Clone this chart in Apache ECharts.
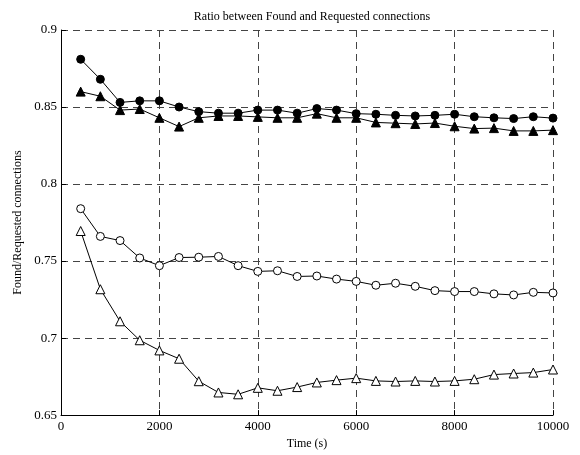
<!DOCTYPE html>
<html><head><meta charset="utf-8">
<script src="https://cdn.jsdelivr.net/npm/echarts@6/dist/echarts.min.js"></script>
<style>html,body{margin:0;padding:0;background:#fff}#c{width:580px;height:455px}</style>
</head><body><div id="c"></div>
<script>
const times = [400,800,1200,1600,2000,2400,2800,3200,3600,4000,4400,4800,5200,5600,6000,6400,6800,7200,7600,8000,8400,8800,9200,9600,10000];
const filledCircle = [0.881,0.868,0.853,0.854,0.854,0.850,0.847,0.846,0.846,0.848,0.848,0.846,0.849,0.848,0.8457,0.8453,0.8446,0.8442,0.8446,0.8453,0.8437,0.843,0.8425,0.8437,0.8428];
const filledTriangle = [0.860,0.857,0.848,0.8487,0.843,0.8373,0.843,0.8442,0.8442,0.8436,0.843,0.843,0.8457,0.843,0.843,0.840,0.8395,0.839,0.8396,0.8375,0.836,0.8363,0.8345,0.8345,0.835];
const openCircle = [0.784,0.766,0.7633,0.752,0.747,0.7523,0.7525,0.753,0.747,0.7433,0.7437,0.740,0.7403,0.7383,0.7368,0.7343,0.7356,0.7336,0.7308,0.7302,0.7302,0.7287,0.728,0.7297,0.7293];
const openTriangle = [0.7695,0.7317,0.7109,0.6986,0.692,0.6866,0.672,0.6647,0.6635,0.6677,0.6658,0.6682,0.6712,0.6727,0.674,0.6722,0.6718,0.6722,0.6718,0.6722,0.6733,0.6763,0.677,0.6776,0.6796];
const xTicks = [0,2000,4000,6000,8000,10000];
const yTicks = [0.65,0.7,0.75,0.8,0.85,0.9];

const font = 'Liberation Serif, Times New Roman, serif';
function mk(vals, symbol, filled, size){
  return {type:'line', data: times.map((t,i)=>[t, vals[i]]), symbol, symbolSize:size, showSymbol:true,
    lineStyle:{color:'#000',width:1}, itemStyle:{color: filled?'#000':'#fff', borderColor:'#000', borderWidth:1},
    emphasis:{disabled:true}, animation:false, z:3};
}
const chart = echarts.init(document.getElementById('c'));
chart.setOption({
  animation:false,
  title:{text:'Ratio between Found and Requested connections', left:307, top:6, textAlign:'center',
    textStyle:{fontFamily:font, fontSize:12, fontWeight:'normal', color:'#000'}},
  grid:{left:61, right:27, top:30, bottom:37},
  xAxis:{type:'value', min:xTicks[0], max:xTicks[xTicks.length-1], interval:2000,
    name:'Time (s)', nameLocation:'middle', nameGap:20,
    nameTextStyle:{fontFamily:font, fontSize:12, color:'#000'},
    axisLine:{lineStyle:{color:'#000',width:1}},
    axisTick:{inside:true, length:5, lineStyle:{color:'#000'}},
    axisLabel:{fontFamily:font, fontSize:13, color:'#000', margin:5, formatter:v=>String(v)},
    splitLine:{show:true, lineStyle:{color:'#444', type:[7,5], width:1}}},
  yAxis:{type:'value', min:yTicks[0], max:yTicks[yTicks.length-1], interval:0.05,
    name:'Found/Requested connections', nameLocation:'middle', nameGap:37, nameRotate:90,
    nameTextStyle:{fontFamily:font, fontSize:12, color:'#000'},
    axisLine:{show:true, lineStyle:{color:'#000',width:1}},
    axisTick:{show:true, inside:true, length:5, lineStyle:{color:'#000'}},
    axisLabel:{fontFamily:font, fontSize:13, color:'#000', margin:4, formatter:v=>String(+v.toFixed(2))},
    splitLine:{show:true, lineStyle:{color:'#444', type:[7,5], width:1}}},
  series:[
    mk(openTriangle,'triangle',false,9),
    mk(openCircle,'circle',false,8),
    mk(filledTriangle,'triangle',true,9),
    mk(filledCircle,'circle',true,8)
  ]
});
</script></body></html>
